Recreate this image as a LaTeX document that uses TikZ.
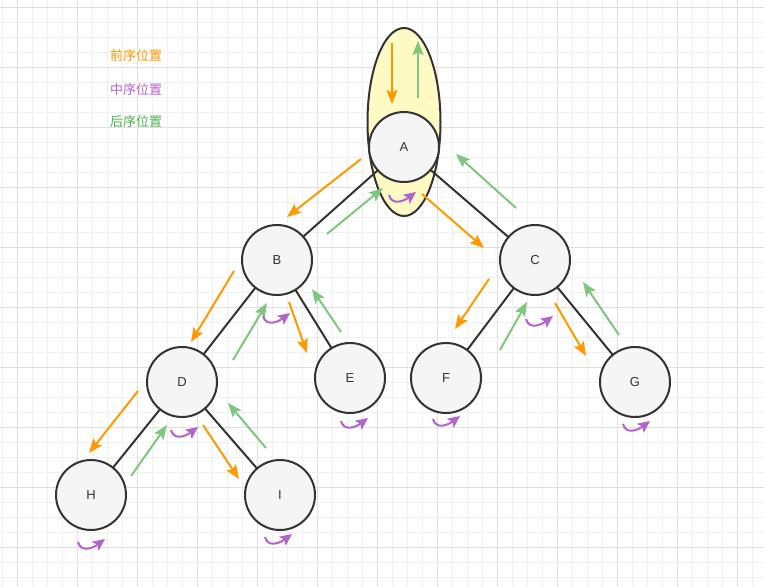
\documentclass[tikz,border=0pt]{standalone}
\usepackage{fontspec}
\setmainfont{Liberation Sans}
\newfontfamily\cjk{Noto Sans CJK SC}
\usetikzlibrary{arrows.meta,calc,shapes.geometric}
\definecolor{preorange}{HTML}{FF9900}
\definecolor{inpurple}{HTML}{B463CC}
\definecolor{postgreen}{HTML}{7FC67F}
\definecolor{legendgreen}{HTML}{4DAF4D}
\definecolor{nodefill}{HTML}{F5F5F5}
\definecolor{nodeline}{HTML}{333333}
\definecolor{rootfill}{HTML}{FFF9C4}
\definecolor{minorgray}{HTML}{F0F0F0}
\definecolor{majorgray}{HTML}{E0E0E0}
\tikzset{
  font=\fontsize{13}{15}\selectfont,
  tree/.style={
    draw=nodeline,
    fill=nodefill,
    circle,
    minimum size=70pt,
    inner sep=0pt,
    line width=2pt,
    text=nodeline
  },
  root/.style={
    draw=nodeline,
    fill=rootfill,
    ellipse,
    minimum width=73pt,
    minimum height=188pt,
    line width=2pt
  },
  legend/.style={
    anchor=west,
    inner sep=0pt,
    font=\cjk\fontsize{13}{15}\selectfont
  },
  edge/.style={draw=nodeline, line width=2pt},
  pre/.style={-{Stealth[length=14pt,width=11pt,inset=2.5pt]}, preorange, line width=2pt},
  post/.style={-{Stealth[length=14pt,width=11pt,inset=2.5pt]}, postgreen, line width=2pt},
  mid/.style={-{Stealth[length=12pt,width=11pt,inset=2.5pt]}, inpurple, line width=2pt},
  minorgrid/.style={minorgray, line width=0.8pt},
  majorgrid/.style={majorgray, line width=1pt}
}

\begin{document}
\begin{tikzpicture}[x=1pt, y=-1pt]

% --- Canvas + grid
\fill[white] (0,0) rectangle (764,587);
\useasboundingbox (0,0) rectangle (764,587);
\foreach \gx in {2,17,...,752} \draw[minorgrid] (\gx,0) -- (\gx,587);
\foreach \gy in {7,22,...,584} \draw[minorgrid] (0,\gy) -- (764,\gy);
\foreach \gx in {17,77,...,737} \draw[majorgrid] (\gx,0) -- (\gx,587);
\foreach \gy in {7,67,...,547} \draw[majorgrid] (0,\gy) -- (764,\gy);

% --- Legend
\node[legend, text=preorange] (lpre) at (110,56) {前序位置};
\node[legend, text=inpurple] (lin) at (110,90) {中序位置};
\node[legend, text=legendgreen] (lpost) at (110,122) {后序位置};

% --- Root highlight
\node[root] (rootbox) at (404,122) {};

% --- Tree edges
\coordinate (cA) at (404,147);
\coordinate (cB) at (277,260);
\coordinate (cC) at (535,260);
\coordinate (cD) at (182,382);
\coordinate (cE) at (350,378);
\coordinate (cF) at (446,378);
\coordinate (cG) at (635,382);
\coordinate (cH) at (91,495);
\coordinate (cI) at (280,495);
\draw[edge] (cA) -- (cB);
\draw[edge] (cA) -- (cC);
\draw[edge] (cB) -- (cD);
\draw[edge] (cB) -- (cE);
\draw[edge] (cC) -- (cF);
\draw[edge] (cC) -- (cG);
\draw[edge] (cD) -- (cH);
\draw[edge] (cD) -- (cI);

% --- Tree nodes
\node[tree] (A) at (cA) {A};
\node[tree] (B) at (cB) {B};
\node[tree] (C) at (cC) {C};
\node[tree] (D) at (cD) {D};
\node[tree] (E) at (cE) {E};
\node[tree] (F) at (cF) {F};
\node[tree] (G) at (cG) {G};
\node[tree] (H) at (cH) {H};
\node[tree] (I) at (cI) {I};

% --- Pre-order (going down)
\draw[pre] ($(A)+(-12,-104)$) -- ($(A)+(-12,-43)$);
\draw[pre] ($(A)+(-43,12)$) -- ($(B)+(10,-43)$);
\draw[pre] ($(A)+(18,47)$) -- ($(C)+(-51,-12)$);
\draw[pre] ($(B)+(-43,11)$) -- ($(D)+(9,-40)$);
\draw[pre] ($(B)+(12,42)$) -- ($(E)+(-43,-25)$);
\draw[pre] ($(C)+(-46,19)$) -- ($(F)+(9,-49)$);
\draw[pre] ($(C)+(20,43)$) -- ($(G)+(-49,-26)$);
\draw[pre] ($(D)+(-44,9)$) -- ($(H)+(-2,-42)$);
\draw[pre] ($(D)+(21,43)$) -- ($(I)+(-41,-16)$);

% --- Post-order (going up)
\draw[post] ($(A)+(14,-49)$) -- ($(A)+(14,-106)$);
\draw[post] ($(B)+(50,-26)$) -- ($(A)+(-21,41)$);
\draw[post] ($(C)+(-19,-52)$) -- ($(A)+(52,7)$);
\draw[post] ($(D)+(51,-22)$) -- ($(B)+(-10,43)$);
\draw[post] ($(E)+(-9,-46)$) -- ($(B)+(35,29)$);
\draw[post] ($(F)+(54,-28)$) -- ($(C)+(-8,42)$);
\draw[post] ($(G)+(-16,-47)$) -- ($(C)+(48,22)$);
\draw[post] ($(H)+(40,-19)$) -- ($(D)+(-15,43)$);
\draw[post] ($(I)+(-14,-47)$) -- ($(D)+(46,21)$);

% --- In-order (under each node)
\foreach \n/\dx/\dy in {A/-15/48, B/-14/56, C/-9/59, D/-11/48, E/-9/43, F/-13/41, G/-12/42, H/-13/47, I/-15/42}
  \draw[mid] ($(\n)+(\dx,\dy)$) .. controls +(3,11) and +(-12,9) .. ($(\n)+(\dx+27,\dy-3)$);

\end{tikzpicture}
\end{document}
